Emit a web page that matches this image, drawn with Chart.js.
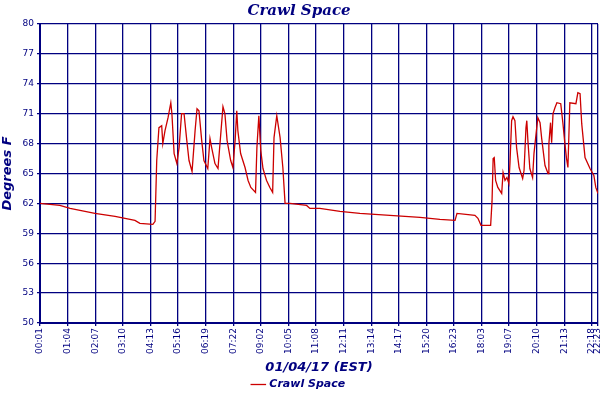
<!DOCTYPE html>
<html><head><meta charset="utf-8">
<script src="https://cdn.jsdelivr.net/npm/chart.js@4"></script>
<style>html,body{margin:0;padding:0;background:#fff}#w{width:600px;height:400px}</style>
</head><body><div id="w"><canvas id="c"></canvas></div>
<script>
// x = sample number (10 samples per labelled tick), y = degrees F
const tickSamples = [0,10,20,30,40,50,60,70,80,90,100,110,120,130,140,150,160,170,180,190,200,202];
const tickLabels = ["00:01","01:04","02:07","03:10","04:13","05:16","06:19","07:22","09:02","10:05","11:08","12:11","13:14","14:17","15:20","16:23","18:03","19:07","20:10","21:13","22:18","22:23"];
const sampleX = [0,7.2,10.9,19.9,27.2,34.4,36.2,40.9,41.7,42.3,43.1,44.1,44.5,45.3,46.4,47.4,47.8,48.6,49.6,50.4,51.3,52.2,53.2,54.0,55.1,56.2,56.9,57.6,58.6,59.4,60.8,61.6,62.2,63.4,64.5,65.6,66.3,67.0,67.8,69.1,69.9,70.7,71.3,71.7,72.7,74.3,75.4,76.4,78.1,78.6,79.3,80.0,80.8,82.1,83.3,84.3,84.8,85.8,87.0,88.0,88.8,90.6,96.6,97.8,101.4,108.7,115.9,126.8,137.7,144.9,150.4,151.1,157.6,158.7,159.8,163.3,163.8,164.2,164.6,165.1,165.9,167.3,167.8,168.5,169.2,169.9,170.3,170.9,171.4,172.1,172.7,173.6,174.9,175.4,176.1,176.4,176.8,177.5,178.5,179.0,180.0,180.4,181.2,181.8,183.0,184.1,184.4,185.0,185.4,185.9,186.6,187.3,188.7,189.5,190.2,190.8,191.3,192.0,194.2,194.9,195.7,196.3,197.5,199.3,200.7,201.4,202.2];
const tempF = [62.0,61.8,61.5,61.0,60.7,60.3,60.0,59.9,60.2,66.3,69.6,69.8,68,69.3,70.6,72.1,71,67,66,67.6,71,71,68.3,66.3,65.2,69.3,71.5,71.3,68.3,66.3,65.5,68.5,67.6,66,65.5,69.3,71.7,71,68.3,66.3,65.6,68.3,71.3,69.3,67,65.6,64.3,63.6,63.1,67.6,70.8,67.3,65.5,64.3,63.6,63.1,68.6,70.8,68.6,65.6,62.0,62,61.8,61.5,61.5,61.2,61.0,60.8,60.6,60.4,60.3,61.0,60.8,60.5,59.8,59.8,62.2,66.5,66.6,64.3,63.6,63,65.1,64.3,64.6,64,66,70.3,70.7,70.3,67.6,65.6,64.5,65.3,69.6,70.3,68.3,65.5,64.6,67,69.6,70.6,70.1,68.5,65.8,65,68,70.1,68.1,71,71.6,72.1,72,70,68,66.5,65.6,72.1,72,73.1,73,70,66.6,65.5,64.8,63.6,63];
const yTicks = [50,53,56,59,62,65,68,71,74,77,80];

const navy = '#000080';
const pts = sampleX.map((x,i)=>({x, y: tempF[i]}));
new Chart(document.getElementById('c'), {
  type: 'line',
  data: { datasets: [{ label: 'Crawl Space', data: pts, borderColor: '#cc0000', backgroundColor: '#cc0000', borderWidth: 1.3, pointRadius: 0, tension: 0 }] },
  options: {
    responsive: true, maintainAspectRatio: false, animation: false,
    layout: { padding: { left: 0, right: 2, top: 0, bottom: 0 } },
    plugins: {
      title: { display: true, text: 'Crawl Space', color: navy, font: { family: 'DejaVu Serif', size: 15, style: 'italic', weight: 'bold' }, padding: { top: 2, bottom: 4 } },
      legend: { position: 'bottom', labels: { color: navy, usePointStyle: true, pointStyle: 'line', boxWidth: 14, padding: 4, font: { family: 'DejaVu Sans', size: 11, style: 'italic', weight: 'bold' } } },
      tooltip: { enabled: false }
    },
    scales: {
      x: {
        type: 'linear', min: 0, max: 202.2,
        afterBuildTicks: s => { s.ticks = tickSamples.map(v => ({ value: v })); },
        afterFit: s => { s.height = 52; s.paddingRight = 0; s.paddingLeft = 0; },
        ticks: { color: navy, autoSkip: false, maxRotation: 90, minRotation: 90, padding: 2, font: { family: 'DejaVu Sans', size: 9 },
          callback: (v) => { const i = tickSamples.indexOf(v); return i >= 0 ? tickLabels[i] : ''; } },
        grid: { color: navy, lineWidth: 1.3, drawTicks: true, tickLength: 3 },
        border: { color: navy, width: 2 },
        title: { display: true, text: '01/04/17 (EST)', color: navy, padding: { top: 0, bottom: 0 }, font: { family: 'DejaVu Sans', size: 13, style: 'italic', weight: 'bold' } }
      },
      y: {
        min: 50, max: 80,
        afterBuildTicks: s => { s.ticks = yTicks.map(v => ({ value: v })); },
        afterFit: s => { s.width = 40; },
        ticks: { color: navy, padding: 3, font: { family: 'DejaVu Sans', size: 9 } },
        grid: { color: navy, lineWidth: 1.3, tickLength: 3 },
        border: { color: navy, width: 2 },
        title: { display: true, text: 'Degrees F', color: navy, padding: 0, font: { family: 'DejaVu Sans', size: 13, style: 'italic', weight: 'bold' } }
      }
    }
  }
});
</script></body></html>
